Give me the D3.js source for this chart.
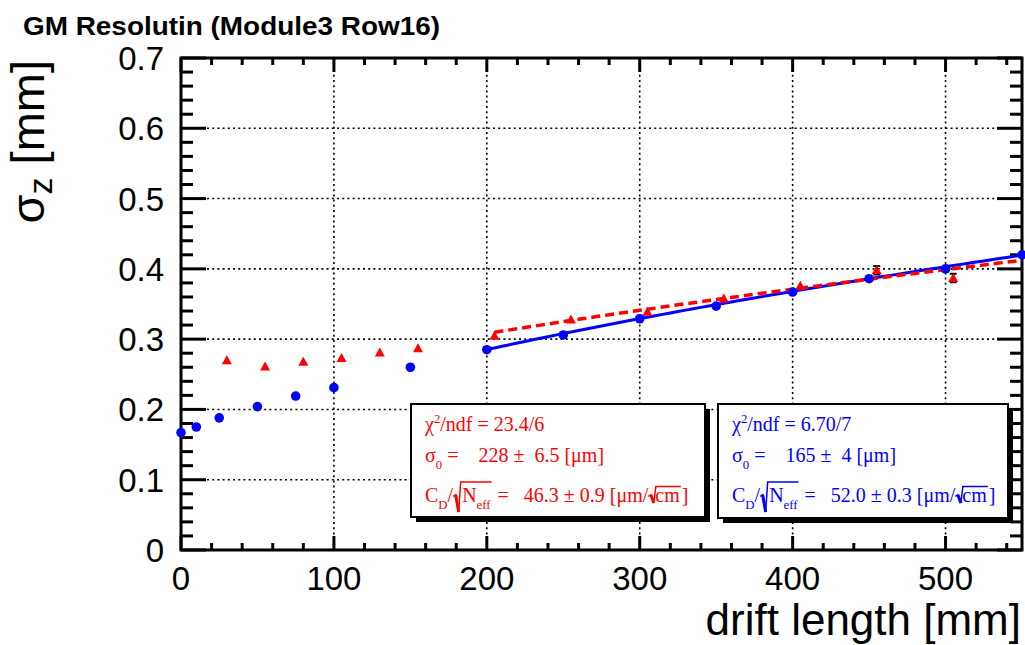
<!DOCTYPE html>
<html>
<head>
<meta charset="utf-8">
<script src="https://cdn.jsdelivr.net/npm/d3@7"></script>
<style>
  html, body { margin: 0; padding: 0; background: #fff; }
  svg { display: block; }
  text { white-space: pre; }
</style>
</head>
<body>
<svg id="chart" width="1025" height="645"></svg>
<script>
// Longitudinal resolution vs drift length, Module3 Row16
const blueLength = [0, 10, 25, 50, 75, 100, 150, 200, 250, 300, 350, 400, 450, 500, 550];
const blueSigma  = [0.167, 0.175, 0.188, 0.204, 0.219, 0.231, 0.260, 0.285, 0.306, 0.329, 0.347, 0.367, 0.386, 0.400, 0.420];

const redLength = [30, 55, 80, 105, 130, 155, 205, 255, 305, 355, 405, 455, 505];
const redSigma  = [0.270, 0.261, 0.268, 0.273, 0.281, 0.287, 0.305, 0.328, 0.339, 0.358, 0.376, 0.398, 0.387];
const redError  = [0, 0, 0, 0, 0, 0, 0, 0, 0, 0, 0, 0.006, 0.006];

// fit: sigma(L) = sqrt(sigma0^2 + (C_D/sqrt(N_eff))^2 * L[cm]), in um
const redSigma0 = 228, redCD = 46.3, redFitFrom = 205;
const blueSigma0 = 165, blueCD = 52.0, blueFitFrom = 200;
const fitTo = 550;

const xTicks = [0, 100, 200, 300, 400, 500];
const yTicks = [0, 0.1, 0.2, 0.3, 0.4, 0.5, 0.6, 0.7];
const yTickLabels = ["0", "0.1", "0.2", "0.3", "0.4", "0.5", "0.6", "0.7"];

const titleText = "GM Resolutin (Module3 Row16)";
const xTitle = "drift length [mm]";

const redStats  = { chi2: "23.4/6", sigma0: "228 \u00b1  6.5", cd: "46.3 \u00b1 0.9" };
const blueStats = { chi2: "6.70/7", sigma0: "165 \u00b1  4",   cd: "52.0 \u00b1 0.3" };

const RED = "#ff0000", BLUE = "#0000ff";
const SANS = "'Liberation Sans', Arial, sans-serif";
const SERIF = "'Liberation Serif', 'Times New Roman', serif";

const svg = d3.select("#chart");
const L = 181, R = 1022, T = 58, B = 550;

const x = d3.scaleLinear().domain([0, 550]).range([L, R]);
const y = d3.scaleLinear().domain([0, 0.7]).range([B, T]);

// dotted grid at major ticks
const grid = svg.append("g").attr("stroke", "#000").attr("stroke-width", 1.6)
  .attr("stroke-dasharray", "2,3.2");
xTicks.filter(v => v > 0).forEach(v => {
  grid.append("line").attr("x1", x(v)).attr("x2", x(v)).attr("y1", B).attr("y2", T);
});
yTicks.filter(v => v > 0 && v < 0.7).forEach(v => {
  grid.append("line").attr("x1", L).attr("x2", R).attr("y1", y(v)).attr("y2", y(v));
});

// frame and ticks on all four sides
const frame = svg.append("g").attr("stroke", "#000").attr("fill", "none");
frame.append("rect").attr("x", L).attr("y", T).attr("width", R - L).attr("height", B - T)
  .attr("stroke-width", 3);
const xMinor = d3.range(0, 551, 20);
const yMinor = d3.range(0, 0.7001, 0.02);
xMinor.forEach(v => {
  const major = Math.abs(v % 100) < 1e-6;
  const len = major ? 14 : 7;
  frame.append("line").attr("x1", x(v)).attr("x2", x(v)).attr("y1", B).attr("y2", B - len).attr("stroke-width", 3);
  frame.append("line").attr("x1", x(v)).attr("x2", x(v)).attr("y1", T).attr("y2", T + len).attr("stroke-width", 3);
});
yMinor.forEach(v => {
  const major = Math.abs(Math.round(v * 10) - v * 10) < 1e-6;
  const len = major ? 25 : 12;
  frame.append("line").attr("x1", L).attr("x2", L + len).attr("y1", y(v)).attr("y2", y(v)).attr("stroke-width", 3);
  frame.append("line").attr("x1", R).attr("x2", R - len).attr("y1", y(v)).attr("y2", y(v)).attr("stroke-width", 3);
});

// tick labels
svg.append("g").selectAll("text").data(xTicks).join("text")
  .attr("x", d => x(d)).attr("y", 590)
  .attr("text-anchor", "middle").attr("font-family", SANS).attr("font-size", 33)
  .text(d => d);
svg.append("g").selectAll("text").data(yTicks).join("text")
  .attr("x", 164).attr("y", d => y(d) + 12)
  .attr("text-anchor", "end").attr("font-family", SANS).attr("font-size", 33)
  .text((d, i) => yTickLabels[i]);

// axis titles
svg.append("text").attr("x", 1021).attr("y", 635).attr("text-anchor", "end")
  .attr("font-family", SANS).attr("font-size", 44).text(xTitle);
const yt = svg.append("text").attr("transform", "translate(44,60) rotate(-90)")
  .attr("text-anchor", "end").attr("font-family", SANS).attr("font-size", 47);
yt.append("tspan").text("\u03c3");
yt.append("tspan").attr("font-size", 34).attr("dy", 8).text("z");
yt.append("tspan").attr("dy", -8).text(" [mm]");

// title
svg.append("text").attr("x", 23).attr("y", 35).attr("font-family", SANS)
  .attr("font-weight", "bold").attr("font-size", 26)
  .attr("textLength", 417).attr("lengthAdjust", "spacingAndGlyphs").text(titleText);

// fit curves
function fitCurve(s0, cd, from) {
  const ls = d3.range(from, fitTo + 0.001, 5);
  return ls.map(l => [l, Math.sqrt(s0 * s0 + cd * cd * l / 10) / 1000]);
}
const line = d3.line().x(d => x(d[0])).y(d => y(d[1]));
svg.append("path").attr("d", line(fitCurve(blueSigma0, blueCD, blueFitFrom)))
  .attr("fill", "none").attr("stroke", BLUE).attr("stroke-width", 3);
svg.append("path").attr("d", line(fitCurve(redSigma0, redCD, redFitFrom)))
  .attr("fill", "none").attr("stroke", RED).attr("stroke-width", 3.5)
  .attr("stroke-dasharray", "9,5");

// red points: black error bars, then triangles
const eb = svg.append("g").attr("stroke", "#000").attr("stroke-width", 2);
redLength.forEach((l, i) => {
  if (!redError[i]) return;
  const cx = x(l), y1 = y(redSigma[i] + redError[i]), y2 = y(redSigma[i] - redError[i]);
  eb.append("line").attr("x1", cx).attr("x2", cx).attr("y1", y1).attr("y2", y2);
  eb.append("line").attr("x1", cx - 3.5).attr("x2", cx + 3.5).attr("y1", y1).attr("y2", y1);
  eb.append("line").attr("x1", cx - 3.5).attr("x2", cx + 3.5).attr("y1", y2).attr("y2", y2);
});
svg.append("g").selectAll("path").data(redLength).join("path")
  .attr("transform", (d, i) => `translate(${x(d)},${y(redSigma[i])})`)
  .attr("d", "M0,-5L5,4L-5,4Z").attr("fill", RED);
svg.append("g").selectAll("circle").data(blueLength).join("circle")
  .attr("cx", d => x(d)).attr("cy", (d, i) => y(blueSigma[i])).attr("r", 4.8)
  .attr("fill", BLUE);

// rich text with sub/superscripts and radicals
function rich(g, x0, y0, parts, color, size) {
  let cx = x0, sq = null;
  parts.forEach(p => {
    if (p.open) { sq = { x: cx, big: p.big }; cx += p.big ? 9 : 7; return; }
    if (p.close) {
      const top = sq.big ? y0 - size * 1.0 : y0 - size * 0.78;
      const bot = sq.big ? y0 + size * 0.5 : y0 + 1;
      const sx = sq.x;
      g.append("path")
        .attr("d", `M${sx},${y0 - size * 0.28}L${sx + 2.5},${y0 - size * 0.36}L${sx + 5.5},${bot}L${sx + 7.5},${top}L${cx + 1},${top}`)
        .attr("fill", "none").attr("stroke", color).attr("stroke-width", 1.5);
      g.append("path")
        .attr("d", `M${sx + 2.5},${y0 - size * 0.36}L${sx + 5.5},${bot}`)
        .attr("stroke", color).attr("stroke-width", 3);
      cx += 2;
      return;
    }
    const small = p.sub || p.sup;
    const dy = p.sub ? size * 0.33 : p.sup ? -size * 0.42 : 0;
    const t = g.append("text").attr("x", cx).attr("y", y0 + dy)
      .attr("font-family", SERIF).attr("font-size", small ? size * 0.64 : size)
      .attr("fill", color).text(p.t);
    cx += t.node().getComputedTextLength();
  });
}

function statBox(x0, y0, w, h, color, st) {
  const g = svg.append("g");
  g.append("rect").attr("x", x0 + 5).attr("y", y0 + 5).attr("width", w).attr("height", h).attr("fill", "#000");
  g.append("rect").attr("x", x0).attr("y", y0).attr("width", w).attr("height", h)
    .attr("fill", "#fff").attr("stroke", "#000").attr("stroke-width", 2);
  const size = 20, tx = x0 + 14;
  rich(g, tx, y0 + 27, [{ t: "\u03c7" }, { t: "2", sup: 1 }, { t: "/ndf = " + st.chi2 }], color, size);
  rich(g, tx, y0 + 58, [{ t: "\u03c3" }, { t: "0", sub: 1 }, { t: " =    " + st.sigma0 + " [\u03bcm]" }], color, size);
  rich(g, tx, y0 + 98, [
    { t: "C" }, { t: "D", sub: 1 }, { t: "/" },
    { open: 1, big: 1 }, { t: "N" }, { t: "eff", sub: 1 }, { close: 1 },
    { t: " =   " + st.cd + " [\u03bcm/" },
    { open: 1 }, { t: "cm" }, { close: 1 }, { t: "]" }
  ], color, size);
}
statBox(411, 404, 294, 113, RED, redStats);
statBox(718, 404, 290, 114, BLUE, blueStats);
</script>
</body>
</html>
